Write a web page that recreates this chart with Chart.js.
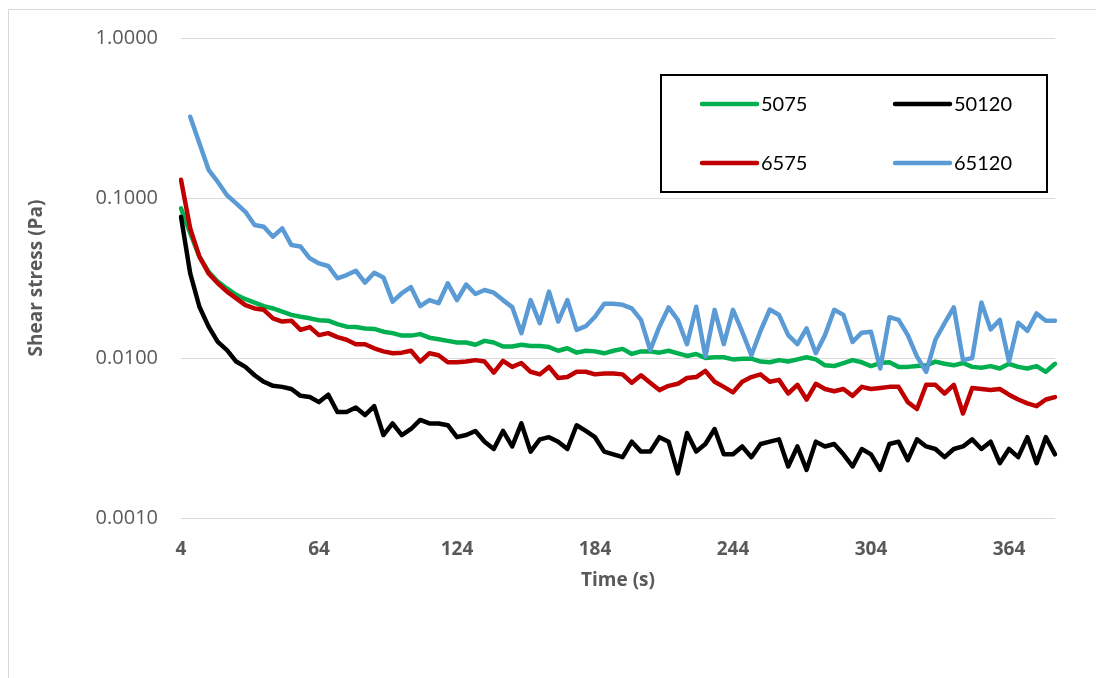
<!DOCTYPE html>
<html>
<head>
<meta charset="utf-8">
<title>Shear stress vs time</title>
<script src="https://cdn.jsdelivr.net/npm/chart.js"></script>
<style>
  html, body { margin: 0; padding: 0; background: #ffffff; overflow: hidden; }
  #frame { position: absolute; left: 8px; top: 9px; width: 1200px; height: 800px; border: 1px solid #d9d9d9; }
  #wrap { position: absolute; left: 0; top: 0; width: 1096px; height: 678px; }
</style>
</head>
<body>
<div id="frame"></div>
<div id="wrap"><canvas id="chart" width="1096" height="678"></canvas></div>
<script>
// Sampling times (s), one reading every 4 s
const timeLabels = [
  4, 8, 12, 16, 20, 24, 28, 32, 36, 40, 44, 48, 52, 56, 60, 64,
  68, 72, 76, 80, 84, 88, 92, 96, 100, 104, 108, 112, 116, 120, 124, 128,
  132, 136, 140, 144, 148, 152, 156, 160, 164, 168, 172, 176, 180, 184, 188, 192,
  196, 200, 204, 208, 212, 216, 220, 224, 228, 232, 236, 240, 244, 248, 252, 256,
  260, 264, 268, 272, 276, 280, 284, 288, 292, 296, 300, 304, 308, 312, 316, 320,
  324, 328, 332, 336, 340, 344, 348, 352, 356, 360, 364, 368, 372, 376, 380, 384
];

// Labelled time ticks on the horizontal axis
const timeTickLabels = [4, 64, 124, 184, 244, 304, 364];

// Decades shown on the logarithmic stress axis
const stressTicks = [0.001, 0.01, 0.1, 1];

// Shear stress (Pa) per sample
const stress5075 = [
  0.0862, 0.0602, 0.0430, 0.0346, 0.0300, 0.0272, 0.0248, 0.0233, 0.0222, 0.0211, 0.0204, 0.0195, 0.0186, 0.0181, 0.0177, 0.0172,
  0.0171, 0.0163, 0.0157, 0.0156, 0.0153, 0.0152, 0.0146, 0.0143, 0.0138, 0.0138, 0.0141, 0.0134, 0.0131, 0.0128, 0.0125, 0.0125,
  0.0121, 0.0128, 0.0125, 0.0118, 0.0118, 0.0121, 0.0119, 0.0119, 0.0117, 0.0111, 0.0115, 0.0108, 0.0111, 0.0110, 0.0107, 0.0111,
  0.0114, 0.0106, 0.0110, 0.0110, 0.0108, 0.0111, 0.0107, 0.0103, 0.0106, 0.0100, 0.0101, 0.0101, 0.0098, 0.0099, 0.0099, 0.0095,
  0.0094, 0.0097, 0.0095, 0.0098, 0.0101, 0.0098, 0.0090, 0.0089, 0.0093, 0.0097, 0.0094, 0.0089, 0.0093, 0.0094, 0.0088, 0.0088,
  0.0089, 0.0090, 0.0095, 0.0092, 0.0090, 0.0093, 0.0088, 0.0087, 0.0089, 0.0086, 0.0092, 0.0088, 0.0086, 0.0089, 0.0082, 0.0092
];

const stress50120 = [
  0.0764, 0.0338, 0.0209, 0.0157, 0.0126, 0.0112, 0.0095, 0.0088, 0.0078, 0.0071, 0.0067, 0.0066, 0.0064, 0.0058, 0.0057, 0.0053,
  0.0059, 0.0046, 0.0046, 0.0049, 0.0044, 0.0050, 0.0033, 0.0039, 0.0033, 0.0036, 0.0041, 0.0039, 0.0039, 0.0038, 0.0032, 0.0033,
  0.0035, 0.0030, 0.0027, 0.0035, 0.0028, 0.0039, 0.0026, 0.0031, 0.0032, 0.0030, 0.0027, 0.0038, 0.0035, 0.0032, 0.0026, 0.0025,
  0.0024, 0.0030, 0.0026, 0.0026, 0.0032, 0.0030, 0.0019, 0.0034, 0.0026, 0.0029, 0.0036, 0.0025, 0.0025, 0.0028, 0.0024, 0.0029,
  0.0030, 0.0031, 0.0021, 0.0028, 0.0020, 0.0030, 0.0028, 0.0029, 0.0025, 0.0021, 0.0027, 0.0025, 0.0020, 0.0029, 0.0030, 0.0023,
  0.0031, 0.0028, 0.0027, 0.0024, 0.0027, 0.0028, 0.0031, 0.0027, 0.0030, 0.0022, 0.0027, 0.0024, 0.0032, 0.0022, 0.0032, 0.0025
];

const stress6575 = [
  0.1300, 0.0646, 0.0430, 0.0338, 0.0293, 0.0260, 0.0236, 0.0214, 0.0204, 0.0200, 0.0177, 0.0169, 0.0171, 0.0150, 0.0156, 0.0139,
  0.0143, 0.0135, 0.0130, 0.0122, 0.0122, 0.0115, 0.0110, 0.0107, 0.0108, 0.0111, 0.0095, 0.0107, 0.0104, 0.0094, 0.0094, 0.0095,
  0.0097, 0.0095, 0.0081, 0.0096, 0.0088, 0.0093, 0.0082, 0.0079, 0.0088, 0.0075, 0.0076, 0.0082, 0.0082, 0.0079, 0.0080, 0.0080,
  0.0079, 0.0070, 0.0078, 0.0070, 0.0063, 0.0067, 0.0069, 0.0075, 0.0076, 0.0083, 0.0071, 0.0066, 0.0061, 0.0071, 0.0076, 0.0079,
  0.0071, 0.0073, 0.0060, 0.0068, 0.0055, 0.0069, 0.0064, 0.0062, 0.0064, 0.0058, 0.0066, 0.0064, 0.0065, 0.0066, 0.0066, 0.0053,
  0.0048, 0.0068, 0.0068, 0.0060, 0.0068, 0.0045, 0.0065, 0.0064, 0.0063, 0.0064, 0.0059, 0.0055, 0.0052, 0.0050, 0.0055, 0.0057
];

const stress65120 = [
  null,   0.3220, 0.2200, 0.1500, 0.1260, 0.1040, 0.0926, 0.0820, 0.0678, 0.0662, 0.0573, 0.0646, 0.0508, 0.0497, 0.0420, 0.0390,
  0.0376, 0.0315, 0.0330, 0.0351, 0.0296, 0.0341, 0.0319, 0.0225, 0.0254, 0.0277, 0.0211, 0.0230, 0.0220, 0.0293, 0.0230, 0.0288,
  0.0251, 0.0266, 0.0256, 0.0230, 0.0208, 0.0143, 0.0230, 0.0165, 0.0260, 0.0169, 0.0230, 0.0150, 0.0158, 0.0181, 0.0218, 0.0218,
  0.0215, 0.0204, 0.0173, 0.0112, 0.0157, 0.0207, 0.0173, 0.0122, 0.0209, 0.0102, 0.0200, 0.0122, 0.0200, 0.0146, 0.0104, 0.0148,
  0.0201, 0.0186, 0.0139, 0.0122, 0.0153, 0.0107, 0.0139, 0.0200, 0.0186, 0.0126, 0.0144, 0.0146, 0.0086, 0.0180, 0.0173, 0.0139,
  0.0102, 0.0082, 0.0130, 0.0165, 0.0207, 0.0097, 0.0100, 0.0222, 0.0151, 0.0173, 0.0095, 0.0166, 0.0148, 0.0190, 0.0171, 0.0171
];

const seriesNames = ['5075', '50120', '6575', '65120'];
const seriesColors = ['#00B050', '#000000', '#C00000', '#5B9BD5'];
const seriesValues = [stress5075, stress50120, stress6575, stress65120];

const axisGrey = '#595959';

// Boxed two-column legend inside the plot, drawn on the canvas
const boxedLegend = {
  id: 'boxedLegend',
  afterDraw(chart) {
    const ctx = chart.ctx;
    const box = { x: 661, y: 75, w: 386, h: 117 };
    ctx.save();
    ctx.fillStyle = '#ffffff';
    ctx.fillRect(box.x, box.y, box.w, box.h);
    ctx.lineWidth = 2;
    ctx.strokeStyle = '#000000';
    ctx.strokeRect(box.x, box.y, box.w, box.h);

    const cols = [702, 895];
    const rows = [104, 163];
    const lineLen = 55;
    ctx.font = '20px Lato, "Open Sans", sans-serif';
    ctx.textBaseline = 'middle';
    ctx.textAlign = 'left';
    chart.data.datasets.forEach((ds, i) => {
      const cx = cols[i % 2];
      const cy = rows[Math.floor(i / 2)];
      ctx.beginPath();
      ctx.lineCap = 'round';
      ctx.lineWidth = 4.5;
      ctx.strokeStyle = ds.borderColor;
      ctx.moveTo(cx, cy);
      ctx.lineTo(cx + lineLen, cy);
      ctx.stroke();
      ctx.fillStyle = '#000000';
      ctx.fillText(ds.label, cx + lineLen + 4, cy + 1);
    });
    ctx.restore();
  }
};

const datasets = seriesNames.map((name, i) => ({
  label: name,
  data: seriesValues[i],
  borderColor: seriesColors[i],
  backgroundColor: seriesColors[i],
  borderWidth: 4.5,
  fill: false,
  order: seriesNames.length - i
}));

new Chart(document.getElementById('chart'), {
  type: 'line',
  data: { labels: timeLabels.map(String), datasets },
  options: {
    responsive: false,
    animation: false,
    devicePixelRatio: 1,
    layout: { padding: { left: 0, right: 41, top: 38, bottom: 0 } },
    elements: {
      point: { radius: 0, hoverRadius: 0 },
      line: { tension: 0, borderCapStyle: 'round', borderJoinStyle: 'round' }
    },
    plugins: {
      legend: { display: false },
      tooltip: { enabled: false }
    },
    scales: {
      x: {
        type: 'category',
        offset: false,
        grid: { display: false },
        border: { display: false },
        ticks: {
          autoSkip: false,
          maxRotation: 0,
          minRotation: 0,
          padding: 12,
          color: axisGrey,
          font: { family: 'Open Sans', size: 19, weight: 'bold' },
          callback: function (value) {
            const t = Number(this.getLabelForValue(value));
            return timeTickLabels.includes(t) ? String(t) : null;
          }
        },
        title: {
          display: true,
          text: 'Time (s)',
          color: axisGrey,
          font: { family: 'Open Sans', size: 19, weight: 'bold' },
          padding: { top: 0, bottom: 86 }
        },
        afterFit(scale) { scale.height = 160; }
      },
      y: {
        type: 'logarithmic',
        position: 'left',
        min: 0.001,
        max: 1,
        afterBuildTicks(scale) {
          scale.ticks = stressTicks.map(v => ({ value: v }));
        },
        grid: { color: '#d9d9d9', lineWidth: 1, drawTicks: false },
        border: { display: false },
        ticks: {
          padding: 23,
          color: axisGrey,
          font: { family: 'Open Sans', size: 20 },
          callback: v => Number(v).toFixed(4)
        },
        title: {
          display: true,
          text: 'Shear stress (Pa)',
          color: axisGrey,
          font: { family: 'Open Sans', size: 19, weight: 'bold' },
          padding: { top: 25, bottom: 0 }
        },
        afterFit(scale) { scale.width = 181; }
      }
    }
  },
  plugins: [boxedLegend]
});
</script>
</body>
</html>
